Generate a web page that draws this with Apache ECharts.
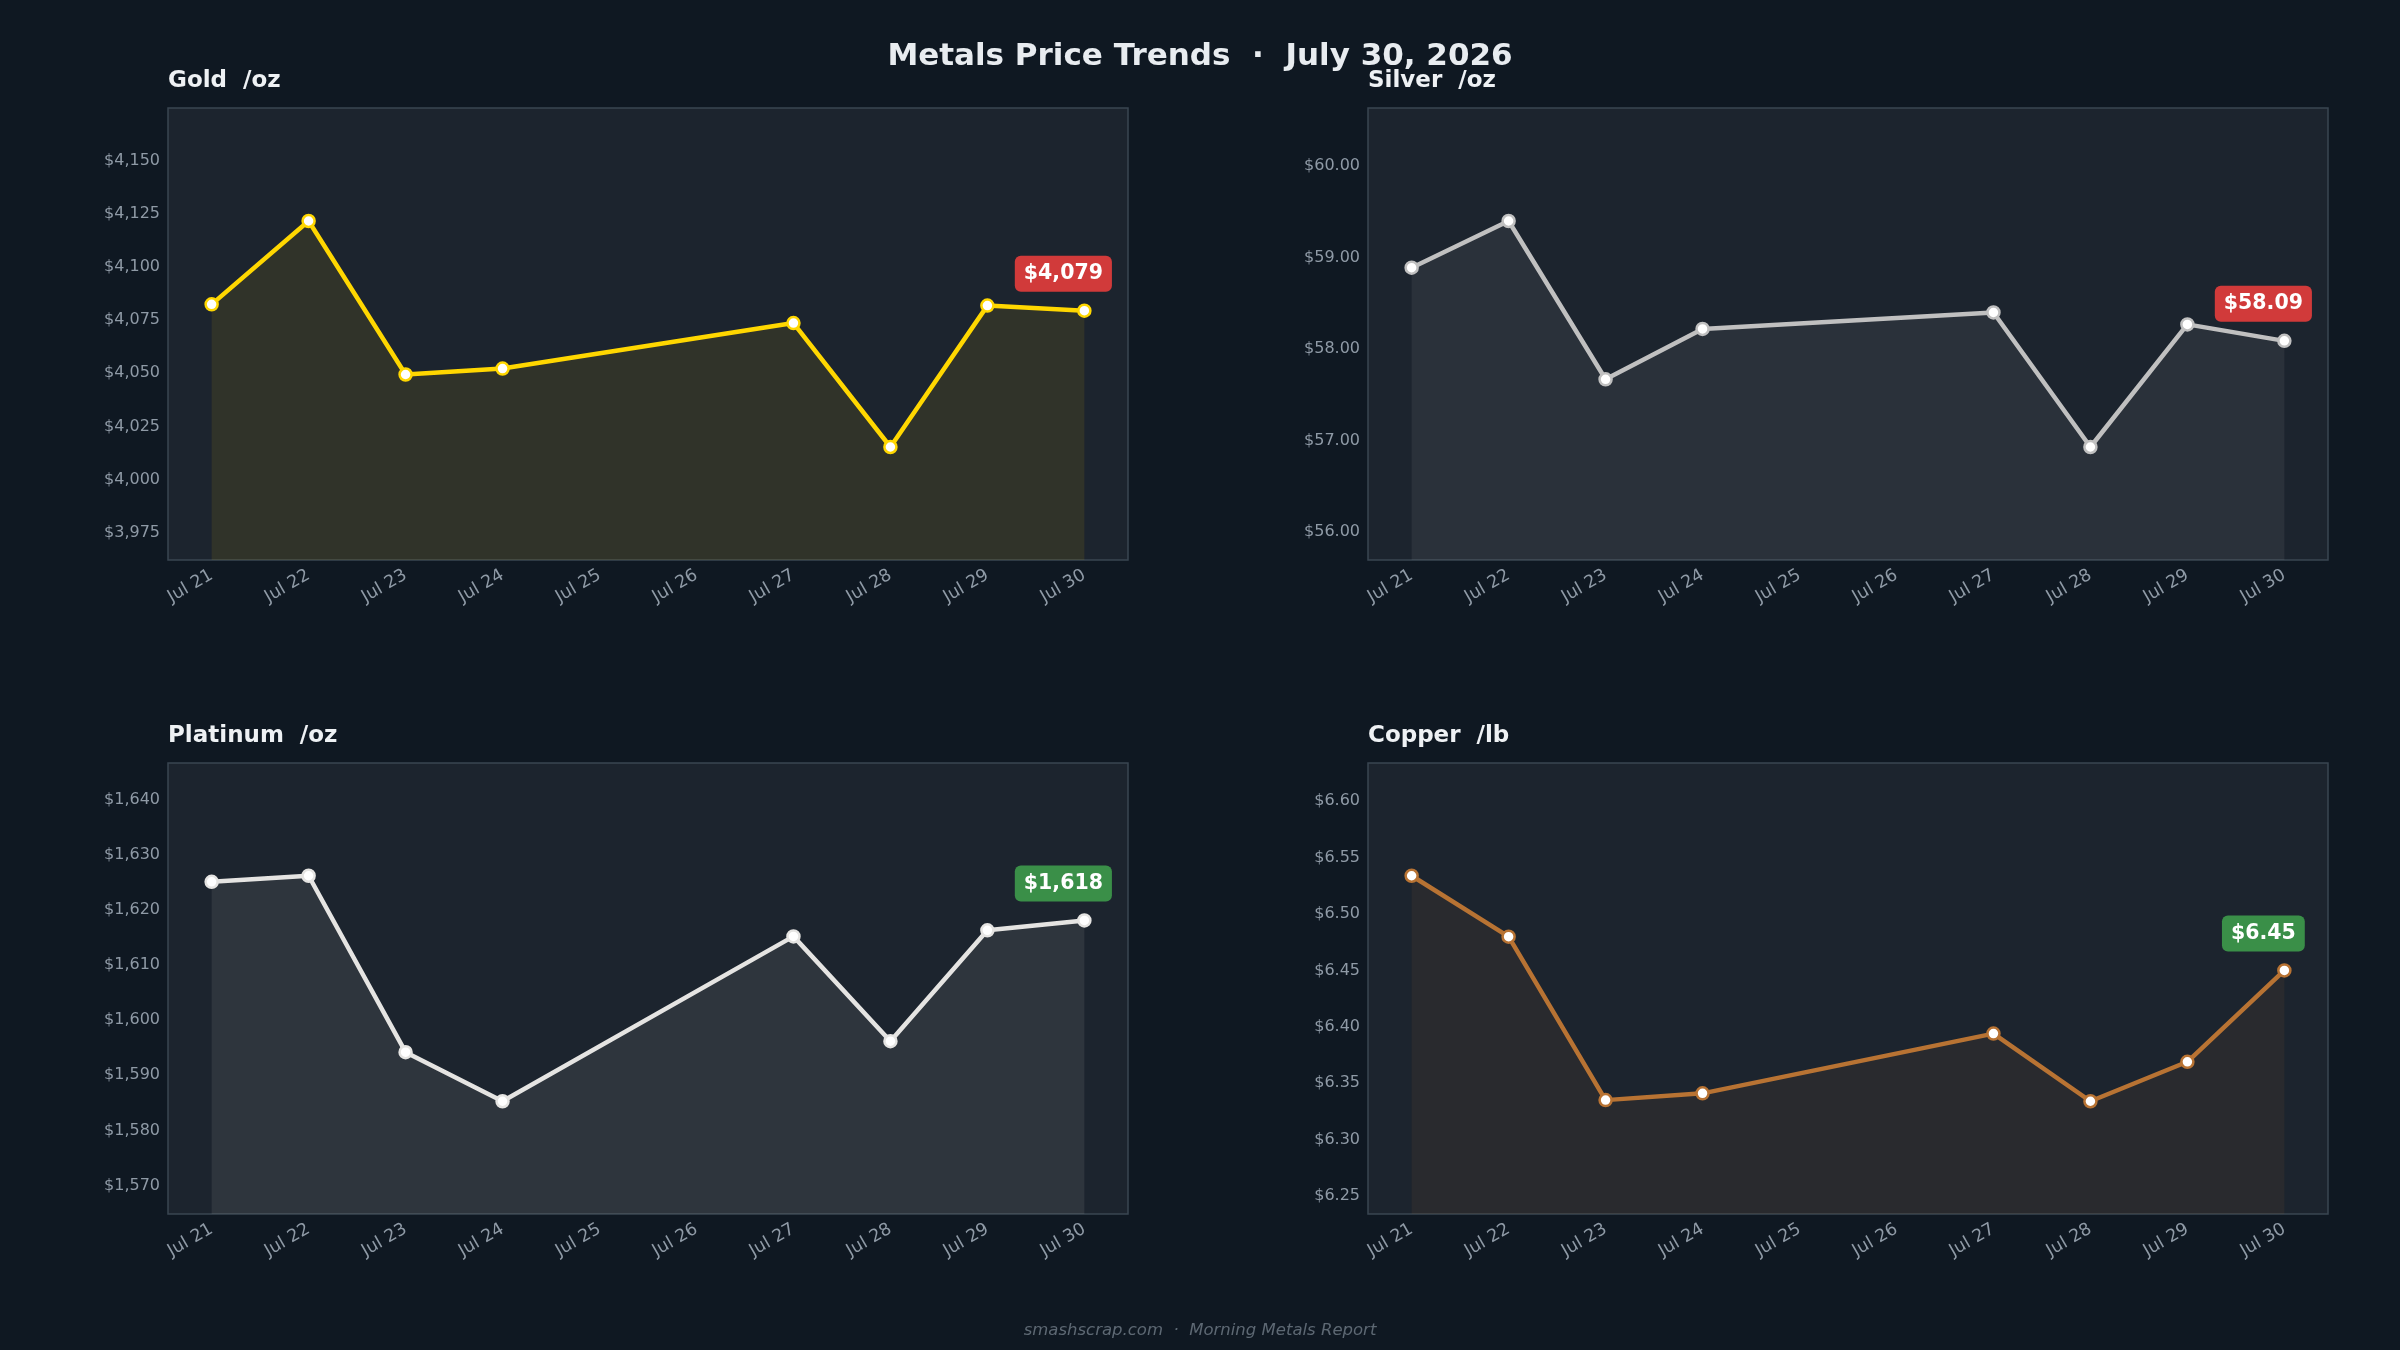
<!DOCTYPE html>
<html>
<head>
<meta charset="utf-8">
<title>Metals Price Trends</title>
<script src="https://cdn.jsdelivr.net/npm/echarts@6/dist/echarts.min.js"></script>
<style>
  html, body { margin: 0; padding: 0; background: #0f1822; }
  #chart { width: 2400px; height: 1350px; }
</style>
</head>
<body>
<div id="chart"></div>
<script>
// x axis tick labels, one per calendar day
var dayLabels = ['Jul 21', 'Jul 22', 'Jul 23', 'Jul 24', 'Jul 25', 'Jul 26', 'Jul 27', 'Jul 28', 'Jul 29', 'Jul 30'];
// days that have a price (weekend has none)
var tradeDays = [21, 22, 23, 24, 27, 28, 29, 30];

var goldPrices     = [4082.4, 4121.6, 4049.4, 4052.2, 4073.6, 4015.3, 4081.8, 4079.4];
var silverPrices   = [58.89, 59.40, 57.67, 58.22, 58.40, 56.93, 58.27, 58.09];
var platinumPrices = [1625.1, 1626.2, 1594.2, 1585.3, 1615.2, 1596.2, 1616.3, 1618.1];
var copperPrices   = [6.534, 6.480, 6.335, 6.341, 6.394, 6.334, 6.369, 6.450];

var panelNames  = ['Gold  /oz', 'Silver  /oz', 'Platinum  /oz', 'Copper  /lb'];
var tickSteps   = [25, 1, 10, 0.05];
var decimals    = [0, 2, 0, 2];

var lineColors  = ['#FFD700', '#C0C0C0', '#E5E4E2', '#B87333'];
var areaColors  = ['rgba(255,215,0,0.13)', 'rgba(192,192,192,0.13)', 'rgba(229,228,226,0.13)', 'rgba(184,115,51,0.12)'];
var badgeColors = ['#d13a3a', '#d13a3a', '#3a8f48', '#3a8f48'];

var FONT = 'DejaVu Sans';
var allPrices = [goldPrices, silverPrices, platinumPrices, copperPrices];

// plot boxes (px)
var grids = [
  { left: 168,  top: 108, right: 1272, bottom: 790 },
  { left: 1368, top: 108, right: 72,   bottom: 790 },
  { left: 168,  top: 763, right: 1272, bottom: 136 },
  { left: 1368, top: 763, right: 72,   bottom: 136 }
];

function money(v, dec) {
  if (dec === 0) return '$' + Math.round(v).toLocaleString('en-US');
  return '$' + v.toFixed(dec);
}

var option = {
  backgroundColor: '#0f1822',
  animation: false,
  grid: [], xAxis: [], yAxis: [], series: [],
  graphic: [
    {
      type: 'text', left: 'center', top: 41,
      style: { text: 'Metals Price Trends  \u00b7  July 30, 2026', fill: '#e8ecf0',
        font: 'bold 31px "' + FONT + '"' }
    },
    {
      type: 'text', left: 'center', top: 1322,
      style: { text: 'smashscrap.com  \u00b7  Morning Metals Report', fill: '#5d6873',
        font: 'italic 16.5px "' + FONT + '"' }
    }
  ]
};

allPrices.forEach(function (prices, i) {
  var g = grids[i];
  var lo = Math.min.apply(null, prices), hi = Math.max.apply(null, prices);
  var pad = (hi - lo) * 0.5;
  var dec = decimals[i];

  option.grid.push({
    left: g.left, top: g.top, right: g.right, bottom: g.bottom,
    containLabel: false, show: true,
    backgroundColor: '#1c242e', borderColor: '#3a4552', borderWidth: 1.5
  });

  option.xAxis.push({
    gridIndex: i, type: 'value',
    min: tradeDays[0] - 0.45, max: tradeDays[tradeDays.length - 1] + 0.45,
    minInterval: 1, maxInterval: 1,
    axisLine: { show: false }, axisTick: { show: false }, splitLine: { show: false },
    axisLabel: {
      rotate: 30, margin: 14, interval: 0, color: '#8f9aa6', fontSize: 17.5, fontFamily: FONT,
      showMinLabel: false, showMaxLabel: false,
      formatter: function (v) {
        var k = Math.round(v) - 21;
        if (Math.abs(v - Math.round(v)) > 0.01) return '';
        return dayLabels[k] || '';
      }
    }
  });

  option.yAxis.push({
    gridIndex: i, type: 'value',
    min: lo - pad, max: hi + pad,
    minInterval: tickSteps[i], maxInterval: tickSteps[i],
    axisLine: { show: false }, axisTick: { show: false }, splitLine: { show: false },
    axisLabel: {
      margin: 8, color: '#8f9aa6', fontSize: 16, fontFamily: FONT,
      showMinLabel: false, showMaxLabel: false,
      formatter: function (v) { return money(v, dec); }
    }
  });

  var last = prices.length - 1;
  var data = prices.map(function (p, k) {
    if (k !== last) return [tradeDays[k], p];
    return {
      value: [tradeDays[k], p],
      label: {
        show: true, position: 'inside', offset: [-21, -37],
        formatter: money(p, dec),
        color: '#ffffff', fontWeight: 'bold', fontSize: 20.5, fontFamily: FONT,
        backgroundColor: badgeColors[i], borderRadius: 6,
        padding: [7, 9, 6, 9], lineHeight: 23
      }
    };
  });

  option.series.push({
    type: 'line', xAxisIndex: i, yAxisIndex: i,
    data: data,
    symbol: 'circle', symbolSize: 12,
    lineStyle: { color: lineColors[i], width: 4.5 },
    itemStyle: { color: '#ffffff', borderColor: lineColors[i], borderWidth: 2.5 },
    areaStyle: { color: areaColors[i], origin: 'start' },
    z: 3
  });

  option.graphic.push({
    type: 'text', left: g.left, top: g.top - 38,
    style: { text: panelNames[i], fill: '#eef1f4', font: 'bold 23px "' + FONT + '"' }
  });
});

var chart = echarts.init(document.getElementById('chart'));
chart.setOption(option);
</script>
</body>
</html>
